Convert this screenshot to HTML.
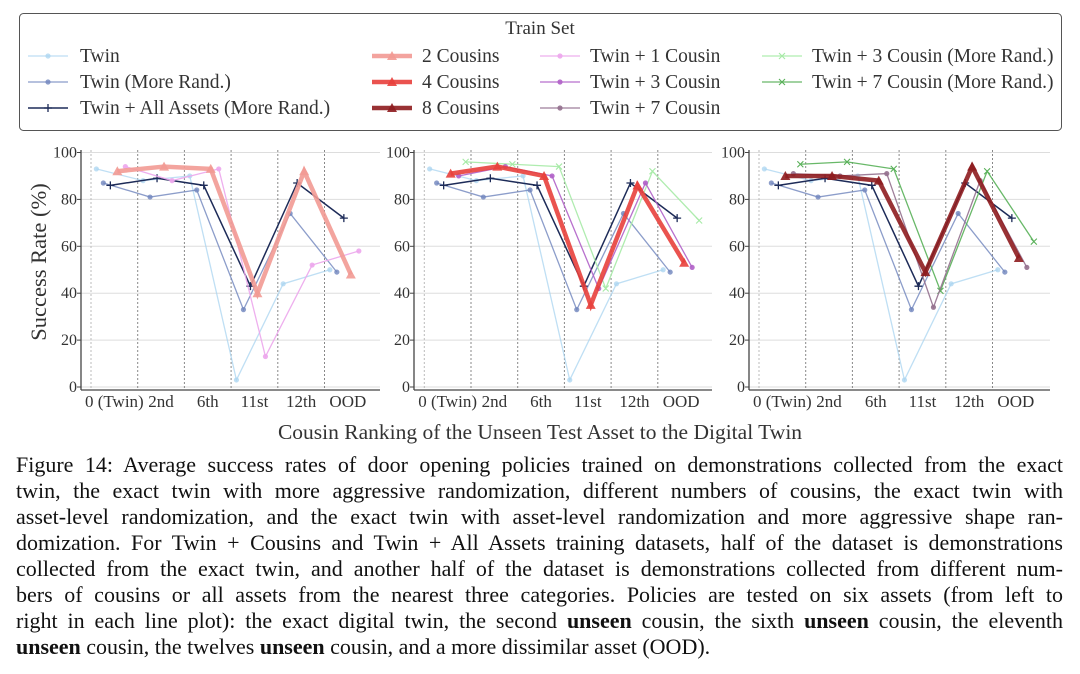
<!DOCTYPE html>
<html><head><meta charset="utf-8">
<style>
body{margin:0;background:#fff;width:1080px;height:674px;overflow:hidden;font-family:"Liberation Serif",serif;color:#222}
#cap{position:absolute;left:16px;top:452px;width:1047px;font-size:22px;line-height:26px;color:#111}
#cap div{text-align:justify;text-align-last:justify;white-space:nowrap;height:26px}
#cap div.last{text-align-last:left}
</style></head><body>
<svg id="s" width="1080" height="674" style="position:absolute;left:0;top:0" font-family="Liberation Serif, serif">
<rect x="19.5" y="13.5" width="1042" height="117" rx="4" fill="#fff" stroke="#555" stroke-width="1"/>
<text x="540" y="34" text-anchor="middle" font-size="19" fill="#333">Train Set</text>
<g font-size="19.5" fill="#333">
<text x="80" y="62">Twin</text>
<text x="80" y="88">Twin (More Rand.)</text>
<text x="80" y="114">Twin + All Assets (More Rand.)</text>
<text x="422" y="62">2 Cousins</text>
<text x="422" y="88">4 Cousins</text>
<text x="422" y="114">8 Cousins</text>
<text x="590" y="62">Twin + 1 Cousin</text>
<text x="590" y="88">Twin + 3 Cousin</text>
<text x="590" y="114">Twin + 7 Cousin</text>
<text x="812" y="62">Twin + 3 Cousin (More Rand.)</text>
<text x="812" y="88">Twin + 7 Cousin (More Rand.)</text>
</g>
<g fill="#333">
<text x="46" y="262" transform="rotate(-90 46 262)" text-anchor="middle" font-size="22.5">Success Rate (%)</text>
<text x="540" y="439" text-anchor="middle" font-size="21.5">Cousin Ranking of the Unseen Test Asset to the Digital Twin</text>
</g>
<g id="plots"></g>
</svg>
<div id="cap">
<div>Figure 14: Average success rates of door opening policies trained on demonstrations collected from the exact</div>
<div>twin, the exact twin with more aggressive randomization, different numbers of cousins, the exact twin with</div>
<div>asset-level randomization, and the exact twin with asset-level randomization and more aggressive shape ran-</div>
<div>domization. For Twin + Cousins and Twin + All Assets training datasets, half of the dataset is demonstrations</div>
<div>collected from the exact twin, and another half of the dataset is demonstrations collected from different num-</div>
<div>bers of cousins or all assets from the nearest three categories. Policies are tested on six assets (from left to</div>
<div>right in each line plot): the exact digital twin, the second <b>unseen</b> cousin, the sixth <b>unseen</b> cousin, the eleventh</div>
<div class="last"><b>unseen</b> cousin, the twelves <b>unseen</b> cousin, and a more dissimilar asset (OOD).</div>
</div>
<script>
const NS="http://www.w3.org/2000/svg";
const g=document.getElementById('plots');
function el(t,a,p){const e=document.createElementNS(NS,t);for(const k in a)e.setAttribute(k,a[k]);(p||g).appendChild(e);return e;}
const S={
 twin:{c:"#a9d4f0",w:1.3,o:-18,op:0.75,m:"d",d:[93,88,90,3,44,50]},
 tmr:{c:"#6f84bd",w:1.3,o:-11,op:0.8,m:"o",d:[87,81,84,33,74,49]},
 tall:{c:"#1d2b58",w:1.5,o:-4,op:1,m:"+",d:[86,89,86,43,87,72]},
 c2:{c:"#f29a94",w:4.5,o:3,op:0.9,m:"t",d:[92,94,93,40,92,48]},
 c4:{c:"#e8403c",w:4.5,o:3,op:0.9,m:"t",d:[91,94,90,35,86,53]},
 c8:{c:"#8e1c1f",w:4.5,o:3,op:0.9,m:"t",d:[90,90,88,49,94,55]},
 t1:{c:"#eca6ec",w:1.3,o:11,op:0.9,m:"o",d:[94,88,93,13,52,58]},
 t3:{c:"#b060c8",w:1.3,o:11,op:0.9,m:"o",d:[90,94,90,42,87,51]},
 t7:{c:"#94708e",w:1.3,o:11,op:0.9,m:"o",d:[91,90,91,34,88,51]},
 g3:{c:"#a6eaa6",w:1.3,o:18,op:0.9,m:"x",d:[96,95,94,42,92,71]},
 g7:{c:"#58b058",w:1.3,o:18,op:0.9,m:"x",d:[95,96,93,41,92,62]}
};
const L=[["twin",28,56],["tmr",28,82],["tall",28,108],["c2",372,56],["c4",372,82],["c8",372,108],["t1",540,56],["t3",540,82],["t7",540,108],["g3",762,56],["g7",762,82]];
function marker(s,x,y,p){
 const c=s.c;
 if(s.m=="t")el("polygon",{points:`${x},${y-5} ${x-5},${y+4} ${x+5},${y+4}`,fill:c,opacity:s.op},p);
 else if(s.m=="+"){el("path",{d:`M${x-4},${y}h8M${x},${y-4}v8`,stroke:c,"stroke-width":1.3},p);}
 else if(s.m=="x"){el("path",{d:`M${x-3},${y-3}l6,6M${x+3},${y-3}l-6,6`,stroke:c,"stroke-width":1.1},p);}
 else el("circle",{cx:x,cy:y,r:2.6,fill:c,opacity:s.op},p);
}
L.forEach(([k,x,y])=>{const s=S[k];el("line",{x1:x,y1:y,x2:x+40,y2:y,stroke:s.c,"stroke-width":s.w,opacity:s.op});marker(s,x+20,y);});
const P=[{l:81,r:380,d0:137.7,keys:["twin","tmr","tall","t1","c2"]},
 {l:414,r:712,d0:471,keys:["twin","tmr","tall","g3","t3","c4"]},
 {l:749,r:1050,d0:805.7,keys:["twin","tmr","tall","g7","t7","c8"]}];
const sp=46.7,Y=v=>387-2.345*v;
const labs=["0 (Twin)","2nd","6th","11st","12th","OOD"];
P.forEach(p=>{
 for(let v=0;v<=100;v+=20){el("line",{x1:p.l,x2:p.r,y1:Y(v),y2:Y(v),stroke:"#ddd","stroke-width":1});
  el("line",{x1:p.l-4,x2:p.l,y1:Y(v),y2:Y(v),stroke:"#444"});
  const t=el("text",{x:p.l-4,y:Y(v)+5,"text-anchor":"end","font-size":16,fill:"#333"});t.textContent=v;}
 el("line",{x1:p.d0-sp,x2:p.d0-sp,y1:150,y2:390,stroke:"#bbb","stroke-dasharray":"2,2"});
 for(let i=0;i<5;i++){const x=p.d0+i*sp;el("line",{x1:x,x2:x,y1:150,y2:390,stroke:"#888","stroke-dasharray":"2,2"});}
 el("line",{x1:p.l,x2:p.l,y1:150,y2:390,stroke:"#444","stroke-width":1.3});
 el("line",{x1:p.l,x2:p.r,y1:390,y2:390,stroke:"#444","stroke-width":1.3});
 labs.forEach((lb,i)=>{const t=el("text",{x:p.d0-sp/2+i*sp,y:407,"text-anchor":"middle","font-size":17,fill:"#333"});t.textContent=lb;});
 p.keys.forEach(k=>{const s=S[k];const pts=s.d.map((v,i)=>[p.d0-sp/2+i*sp+s.o,Y(v)]);
  el("polyline",{points:pts.map(a=>a.join(",")).join(" "),fill:"none",stroke:s.c,"stroke-width":s.w,opacity:s.op,"stroke-linejoin":"miter"});
  pts.forEach(a=>marker(s,a[0],a[1]));});
});
</script>
</body></html>
